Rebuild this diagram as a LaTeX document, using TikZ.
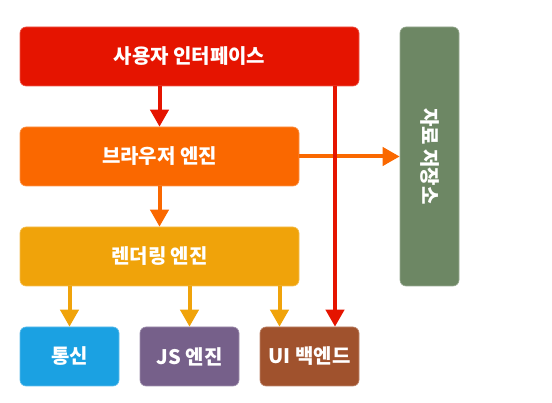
\documentclass[tikz,border=0pt]{standalone}
\usepackage{fontspec}
\setmainfont{Noto Sans CJK KR}
\usetikzlibrary{arrows.meta}
\definecolor{cRed}{HTML}{E51400}
\definecolor{cOrange}{HTML}{FA6800}
\definecolor{cAmber}{HTML}{F0A30A}
\definecolor{cGreen}{HTML}{6D8764}
\definecolor{cCyan}{HTML}{1BA1E2}
\definecolor{cMauve}{HTML}{76608A}
\definecolor{cBrown}{HTML}{A0522D}
\tikzset{
  box/.style={rectangle, rounded corners=6pt, inner sep=0pt, text=white,
    font=\bfseries\fontsize{20}{23}\selectfont, line width=0.6pt},
  conn/.style={line width=4pt, -{Triangle[length=17pt,width=18pt]}},
}
\begin{document}
\begin{tikzpicture}[x=1pt,y=-1pt]
\useasboundingbox (0,0) rectangle (552,403);
\node[box, fill=cRed, draw=cRed!70!white, minimum width=339pt, minimum height=59pt] (ui) at (189.5,56.5) {사용자 인터페이스};
\node[box, fill=cOrange, draw=cOrange!70!white, minimum width=279pt, minimum height=59pt] (be) at (159.5,156.5) {브라우저 엔진};
\node[box, fill=cAmber, draw=cAmber!70!white, minimum width=279pt, minimum height=59pt] (re) at (159.5,256.5) {렌더링 엔진};
\node[box, fill=cGreen, draw=cGreen!70!white, minimum width=59pt, minimum height=259pt] (st) at (429.5,156.5) {};
\node[box, rotate=-90] (stl) at (st.center) {자료 저장소};
\node[box, fill=cCyan, draw=cCyan!70!white, minimum width=99pt, minimum height=59pt] (net) at (69.5,356.5) {통신};
\node[box, fill=cMauve, draw=cMauve!70!white, minimum width=99pt, minimum height=59pt] (js) at (189.5,356.5) {JS 엔진};
\node[box, fill=cBrown, draw=cBrown!70!white, minimum width=99pt, minimum height=59pt] (uib) at (309.5,356.5) {UI 백엔드};
\coordinate (c1) at (335,0);
\coordinate (c2) at (279.5,0);
% connectors
\draw[conn, cOrange] (be.east) -- (st.west);
\draw[conn, cRed] (ui.south -| be.north) -- (be.north);
\draw[conn, cOrange] (be.south) -- (re.north);
\draw[conn, cAmber] (re.south -| net.north) -- (net.north);
\draw[conn, cAmber] (re.south -| js.north) -- (js.north);
\draw[conn, cAmber] (re.south -| c2) -- (uib.north -| c2);
\draw[conn, cRed] (ui.south -| c1) -- (uib.north -| c1);
\end{tikzpicture}
\end{document}
